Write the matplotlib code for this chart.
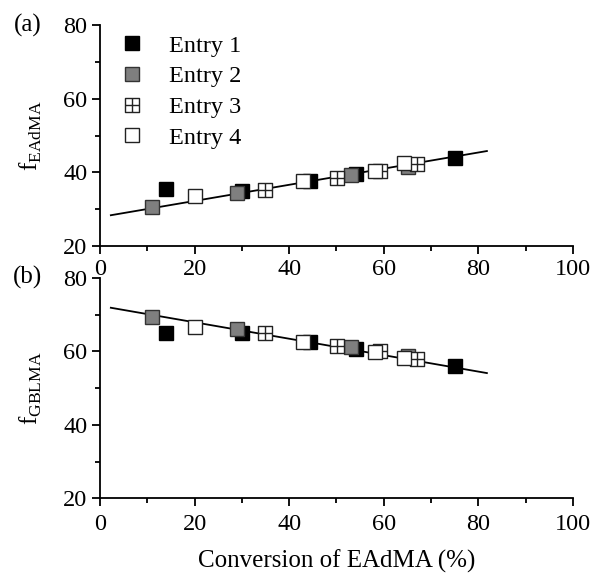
import matplotlib
matplotlib.use("Agg")
import matplotlib.pyplot as plt
from matplotlib.path import Path

# -------------------------------------------------
# Data
# -------------------------------------------------

entry1_x = [14.0, 30.0, 44.4, 54.2, 75.1]
entry1_a = [35.4, 35.1, 37.8, 39.6, 44.0]
entry1_b = [64.9, 65.0, 62.5, 60.6, 56.0]

entry2_x = [10.9, 28.9, 53.1, 65.2]
entry2_a = [30.7, 34.3, 39.2, 41.5]
entry2_b = [69.4, 66.0, 61.2, 58.8]

entry3_x = [34.9, 50.1, 59.3, 67.0]
entry3_a = [35.2, 38.6, 40.4, 42.4]
entry3_b = [64.9, 61.5, 60.1, 58.0]

entry4_x = [20.0, 43.0, 58.2, 64.2]
entry4_a = [33.6, 37.6, 40.4, 42.6]
entry4_b = [66.7, 62.5, 59.9, 58.1]

fit_x = [2.3, 81.8]
fit_a = [28.4, 45.8]
fit_b = [71.9, 54.1]

labels = ["Entry 1", "Entry 2", "Entry 3", "Entry 4"]

# -------------------------------------------------
# Style
# -------------------------------------------------

plt.rcParams["font.family"] = ["Liberation Serif", "DejaVu Serif"]
plt.rcParams["mathtext.fontset"] = "custom"
plt.rcParams["mathtext.rm"] = "Liberation Serif"
plt.rcParams["font.size"] = 17

# square with a cross inside (Entry 3)
box_cross = Path(
    [(-1, -1), (1, -1), (1, 1), (-1, 1), (-1, -1),
     (0, -1), (0, 1), (-1, 0), (1, 0)],
    [Path.MOVETO, Path.LINETO, Path.LINETO, Path.LINETO, Path.CLOSEPOLY,
     Path.MOVETO, Path.LINETO, Path.MOVETO, Path.LINETO],
)

styles = [
    dict(marker="s", mfc="black", mec="black"),
    dict(marker="s", mfc="#7f7f7f", mec="#333333"),
    dict(marker=box_cross, mfc="white", mec="#222222"),
    dict(marker="s", mfc="white", mec="#222222"),
]

fig = plt.figure(figsize=(5.95, 5.78), dpi=100)
ax_a = fig.add_axes([0.168, 0.574, 0.795, 0.383])
ax_b = fig.add_axes([0.168, 0.138, 0.795, 0.381])

series_a = [(entry1_x, entry1_a), (entry2_x, entry2_a), (entry3_x, entry3_a), (entry4_x, entry4_a)]
series_b = [(entry1_x, entry1_b), (entry2_x, entry2_b), (entry3_x, entry3_b), (entry4_x, entry4_b)]

for ax, series, fit_y in [(ax_a, series_a, fit_a), (ax_b, series_b, fit_b)]:
    for (xs, ys), st, lab in zip(series, styles, labels):
        ax.plot(xs, ys, linestyle="none", markersize=10.5, markeredgewidth=1.0,
                label=lab, **st)
    ax.plot(fit_x, fit_y, color="black", linewidth=1.3, zorder=1)

    ax.set_xlim(0, 100)
    ax.set_ylim(20, 80)
    ax.set_xticks([0, 20, 40, 60, 80, 100])
    ax.set_xticks(range(10, 100, 20), minor=True)
    ax.set_yticks([20, 40, 60, 80])
    ax.set_yticks([30, 50, 70], minor=True)
    ax.spines["top"].set_visible(False)
    ax.spines["right"].set_visible(False)
    for s in ["left", "bottom"]:
        ax.spines[s].set_linewidth(1.3)
    ax.tick_params(which="major", direction="out", length=6, width=1.3, labelsize=17.5, pad=3)
    ax.tick_params(which="minor", direction="out", length=3.8, width=1.3)
    ax.set_facecolor("none")

ax_b.tick_params(axis="x", which="major", pad=5)

ax_a.set_ylabel(r"f$_{\mathrm{EAdMA}}$", fontsize=18, labelpad=14)
ax_b.set_ylabel(r"f$_{\mathrm{GBLMA}}$", fontsize=18, labelpad=14)
ax_b.set_xlabel("Conversion of EAdMA (%)", fontsize=18, labelpad=11)

fig.text(28 / 595, 1 - 25 / 578, "(a)", fontsize=18, ha="center", va="center")
fig.text(28 / 595, 1 - 277 / 578, "(b)", fontsize=18, ha="center", va="center")

ax_a.legend(loc="upper left", bbox_to_anchor=(0.022, 1.0), frameon=False,
            fontsize=17.5, handlelength=1.0, handletextpad=1.0, labelspacing=0.36,
            borderaxespad=0.0)

fig.savefig("out.png", dpi=100)
